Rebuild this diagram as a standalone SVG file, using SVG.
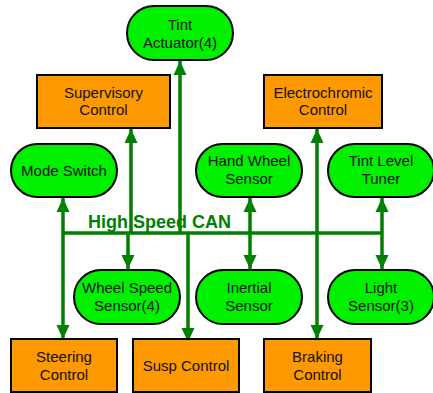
<svg xmlns="http://www.w3.org/2000/svg" width="433" height="393" viewBox="0 0 433 393">
<defs>
<style>
.g{fill:#00f000;stroke:#000;stroke-width:2}
.o{fill:#ff9900;stroke:#000;stroke-width:2}
.t{font-family:"Liberation Sans",Arial,sans-serif;font-size:15px;fill:#111;text-anchor:middle}
.c{stroke:#008000;stroke-width:3.5;fill:none}
.lbl{font-family:"Liberation Sans",Arial,sans-serif;font-size:18px;font-weight:bold;fill:#008000}
</style>
<marker id="ah" markerUnits="userSpaceOnUse" markerWidth="14" markerHeight="14" viewBox="0 0 14 14" refX="14" refY="7" orient="auto-start-reverse">
<path d="M0,0.5 L14,7 L0,13.5 Z" fill="#008000"/>
</marker>
</defs>
<g id="connectors">
<path class="c" d="M63,233 L382,233"/>
<path class="c" d="M180,233 L180,61" marker-end="url(#ah)"/>
<path class="c" d="M131,233 L131,129" marker-end="url(#ah)"/>
<path class="c" d="M128,233 L128,269" marker-end="url(#ah)"/>
<path class="c" d="M63,198 L63,339" marker-start="url(#ah)" marker-end="url(#ah)"/>
<path class="c" d="M250,198 L250,269" marker-start="url(#ah)" marker-end="url(#ah)"/>
<path class="c" d="M382,198 L382,269" marker-start="url(#ah)" marker-end="url(#ah)"/>
<path class="c" d="M188,233 L188,342" marker-end="url(#ah)"/>
<path class="c" d="M317,129 L317,339" marker-start="url(#ah)" marker-end="url(#ah)"/>
<text class="lbl" x="88" y="228">High Speed CAN</text>
</g>
<g id="tint-actuator"><rect class="g" x="127" y="6" width="106" height="54" rx="27"/><text class="t" x="180" y="29.5">Tint</text><text class="t" x="180" y="47.5">Actuator(4)</text></g>
<g id="supervisory-control"><rect class="o" x="37" y="75" width="133" height="53"/><text class="t" x="103.5" y="97.5">Supervisory</text><text class="t" x="103.5" y="115">Control</text></g>
<g id="electrochromic-control"><rect class="o" x="264" y="75" width="118" height="53"/><text class="t" x="323" y="97.5">Electrochromic</text><text class="t" x="323" y="115">Control</text></g>
<g id="mode-switch"><rect class="g" x="11" y="144" width="106" height="53" rx="26.5"/><text class="t" x="64" y="176">Mode Switch</text></g>
<g id="hand-wheel-sensor"><rect class="g" x="196" y="144" width="106" height="53" rx="26.5"/><text class="t" x="249" y="166">Hand Wheel</text><text class="t" x="249" y="184">Sensor</text></g>
<g id="tint-level-tuner"><rect class="g" x="328" y="144" width="106" height="53" rx="26.5"/><text class="t" x="381" y="166">Tint Level</text><text class="t" x="381" y="184">Tuner</text></g>
<g id="wheel-speed-sensor"><rect class="g" x="74" y="270" width="106" height="54" rx="27"/><text class="t" x="127" y="293">Wheel Speed</text><text class="t" x="127" y="311">Sensor(4)</text></g>
<g id="inertial-sensor"><rect class="g" x="196" y="270" width="106" height="54" rx="27"/><text class="t" x="249" y="293">Inertial</text><text class="t" x="249" y="311">Sensor</text></g>
<g id="light-sensor"><rect class="g" x="328" y="270" width="106" height="54" rx="27"/><text class="t" x="381" y="293">Light</text><text class="t" x="381" y="311">Sensor(3)</text></g>
<g id="steering-control"><rect class="o" x="11" y="339" width="106" height="53"/><text class="t" x="64" y="362">Steering</text><text class="t" x="64" y="379.5">Control</text></g>
<g id="susp-control"><rect class="o" x="133" y="339" width="106" height="53"/><text class="t" x="186" y="371">Susp Control</text></g>
<g id="braking-control"><rect class="o" x="264" y="339" width="107" height="53"/><text class="t" x="317.5" y="362">Braking</text><text class="t" x="317.5" y="379.5">Control</text></g>
</svg>
